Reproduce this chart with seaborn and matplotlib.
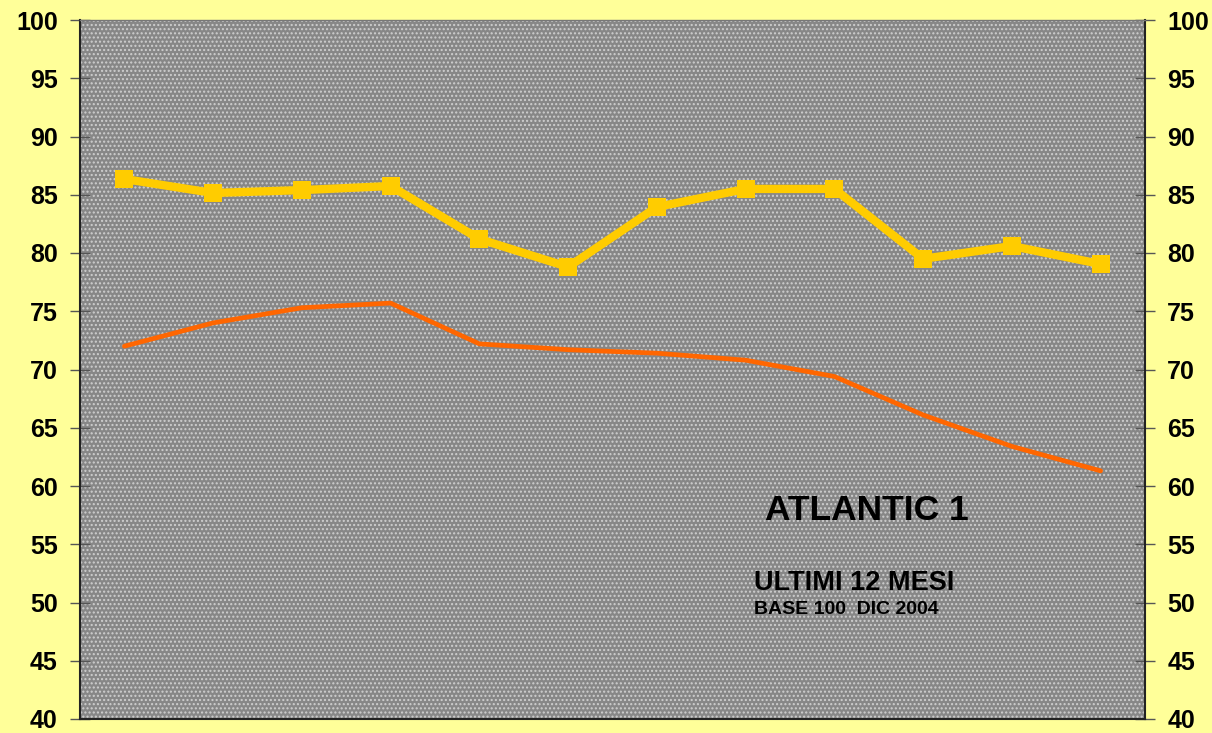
import numpy as np
import pandas as pd
import seaborn as sns
import matplotlib
matplotlib.use("Agg")
import matplotlib.pyplot as plt
from matplotlib.patches import Rectangle

months = list(range(1, 13))
fund_values = [86.35, 85.15, 85.4, 85.75, 81.2, 78.8, 83.95, 85.5, 85.5, 79.5, 80.6, 79.05]
bench_values = [72.0, 74.0, 75.3, 75.7, 72.2, 71.7, 71.4, 70.8, 69.4, 66.1, 63.4, 61.3]
y_ticks = list(range(40, 101, 5))
title_text = "ATLANTIC 1"
sub_text = "ULTIMI 12 MESI"
base_text = "BASE 100  DIC 2004"

sns.set_style("white")
plt.rcParams['font.family'] = ['Liberation Sans', 'DejaVu Sans']
plt.rcParams['font.weight'] = 'bold'

df = pd.DataFrame({
    "x": list(range(len(months))) * 2,
    "value": fund_values + bench_values,
    "series": ["fund"] * len(months) + ["bench"] * len(months),
})

fig = plt.figure(figsize=(12.12, 7.33), dpi=100)
fig.patch.set_facecolor("#FFFF99")
ax = fig.add_axes([80 / 1212, 14 / 733, 1065 / 1212, 699 / 733])
ax.set_facecolor("#878787")
ax.add_patch(Rectangle((0, 0), 1, 1, transform=ax.transAxes, facecolor="none",
                       edgecolor="#cfcfcf", hatch="....", linewidth=0, zorder=0))

sns.lineplot(data=df[df.series == "bench"], x="x", y="value", ax=ax,
             color="#FF6600", linewidth=3.4, legend=False, zorder=3)
sns.lineplot(data=df[df.series == "fund"], x="x", y="value", ax=ax,
             color="#FFCC00", linewidth=6, marker="s", markersize=12.5,
             markeredgewidth=0, legend=False, zorder=4)

ax.set_xlim(-0.5, len(months) - 0.5)
ax.set_ylim(40, 100)
ax.set_yticks(y_ticks)
ax.set_xticks([])
ax.set_xlabel("")
ax.set_ylabel("")
ax.tick_params(axis="y", direction="inout", length=14, width=1, color="#555555",
               labelsize=18, labelcolor="#000000", left=True, right=True,
               labelleft=True, labelright=True, pad=9)
for side in ["left", "bottom", "right", "top"]:
    ax.spines[side].set_visible(True)
    ax.spines[side].set_color("#222222")
    ax.spines[side].set_linewidth(1.5)
ax.spines["top"].set_color("#777777")
ax.spines["top"].set_linewidth(1)

ax.text(7.22, 57.9, title_text, ha="left", va="center", fontsize=25.5, fontweight="bold", color="#000000", zorder=5)
ax.text(7.09, 51.7, sub_text, ha="left", va="center", fontsize=19.5, fontweight="bold", color="#000000", zorder=5)
ax.text(7.09, 49.4, base_text, ha="left", va="center", fontsize=14, fontweight="bold", color="#000000", zorder=5)

fig.savefig("out.png", dpi=100, facecolor=fig.get_facecolor())
